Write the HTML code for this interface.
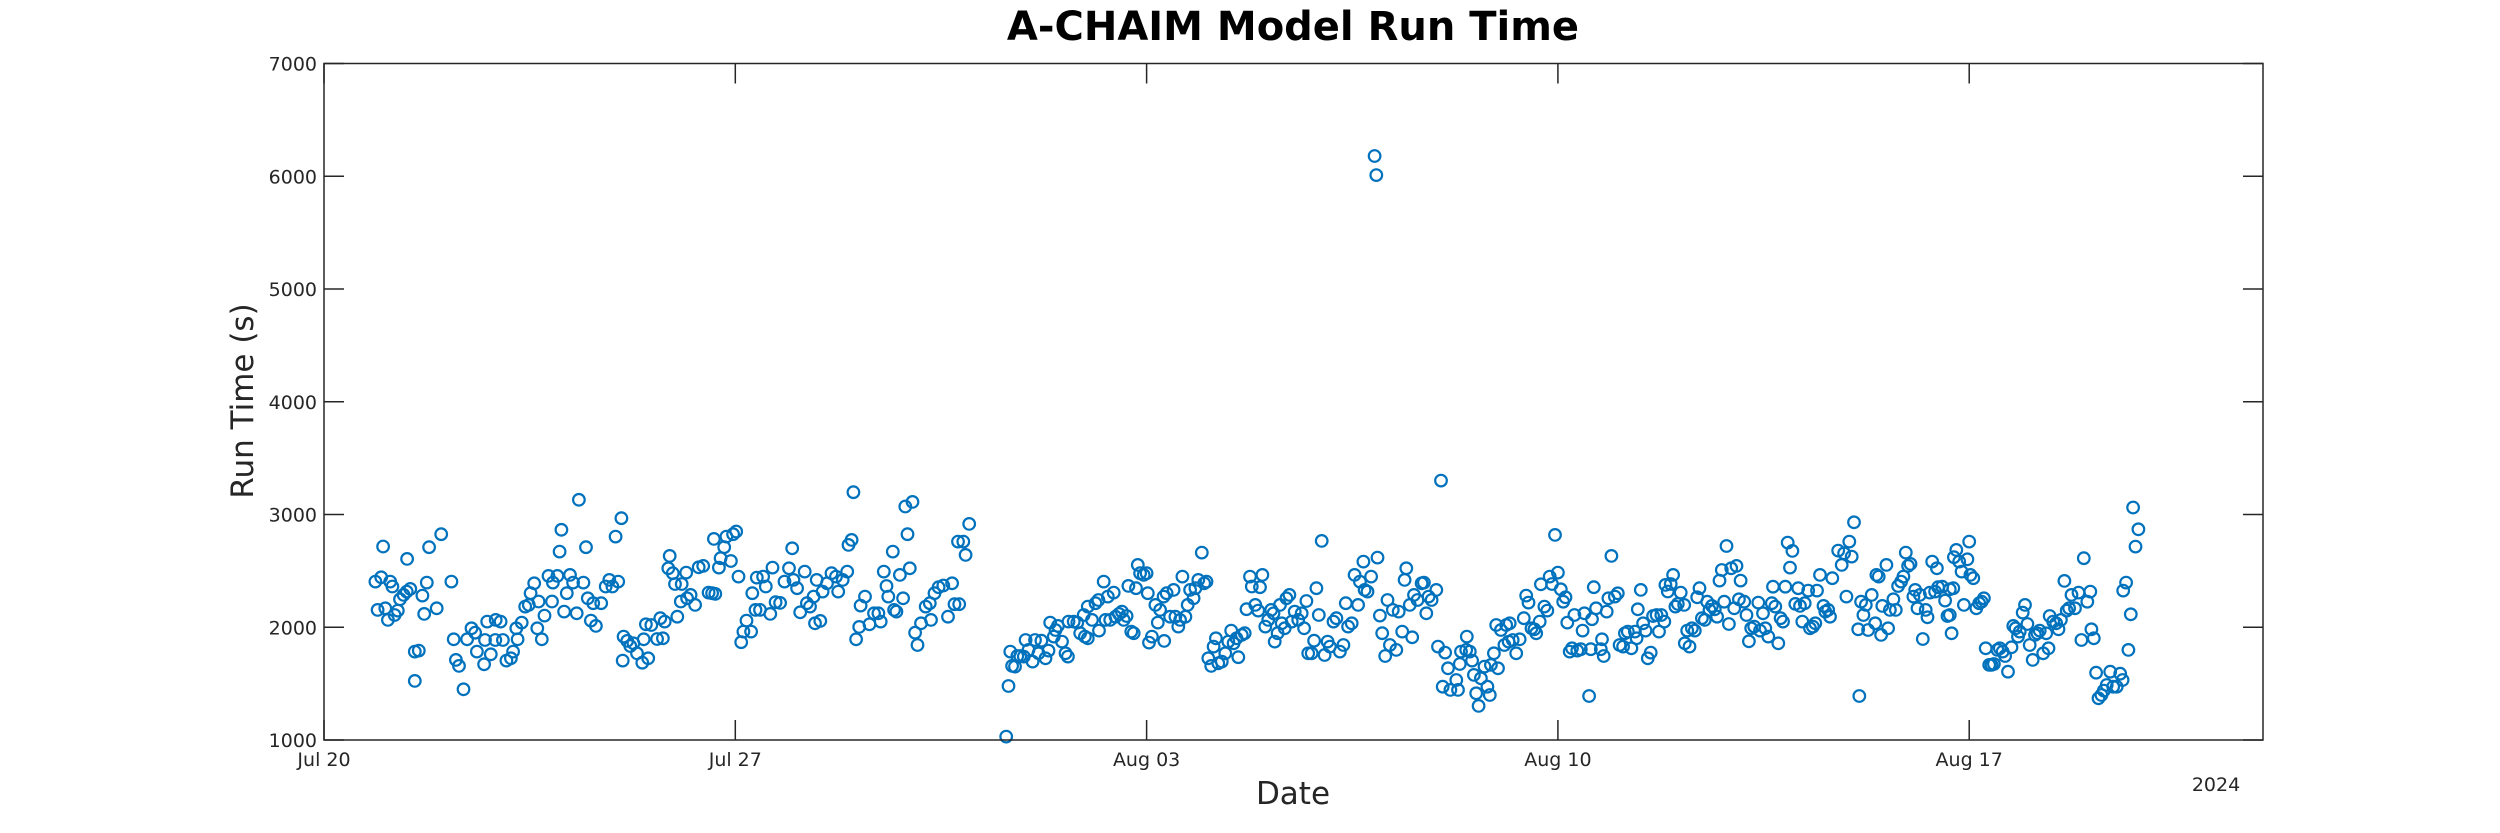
<!DOCTYPE html>
<html><head><meta charset="utf-8"><title>A-CHAIM Model Run Time</title>
<style>
html,body{margin:0;padding:0;background:#fff;}
svg{display:block;font-family:"DejaVu Sans","Liberation Sans",sans-serif;}
</style></head>
<body>
<svg id="chart" width="2500" height="833" viewBox="0 0 2500 833" xmlns="http://www.w3.org/2000/svg">
<rect x="0" y="0" width="2500" height="833" fill="#fff"/>
<text x="1293" y="40" text-anchor="middle" font-size="40" font-weight="bold" fill="#000">A-CHAIM Model Run Time</text>
<g id="grid"></g>
<g id="marks"></g>
<rect x="324" y="63.5" width="1939" height="676.5" fill="none" stroke="#262626" stroke-width="1.5"/>
<text transform="translate(253,401) rotate(-90)" text-anchor="middle" font-size="31" fill="#262626">Run Time (s)</text>
<text x="1293" y="804" text-anchor="middle" font-size="31" fill="#262626">Date</text>
<text x="2216" y="791" text-anchor="middle" font-size="19" fill="#262626">2024</text>
</svg>
<script>
// ---- data (days since 2024-07-20, run time in seconds) ----
const tickDays = [0, 7, 14, 21, 28];
const tickLabels = ['Jul 20', 'Jul 27', 'Aug 03', 'Aug 10', 'Aug 17'];
const yTickValues = [1000, 2000, 3000, 4000, 5000, 6000, 7000];

const daysA = [0.875,0.974,1.126,1.164,1.005,1.415,0.913,1.043,1.088,1.202,1.256,1.294,1.355,1.408,1.469,1.674,1.750,1.788,1.994,2.169,1.705,1.918,1.545,1.613,1.545,2.207,2.245,2.298,2.374,2.435,2.511,2.572,2.603,2.724,2.778,2.839,2.922,3.006,2.740,2.915,3.044,3.105,3.181,3.219,3.295,3.272,3.364,3.425,3.485,3.516,3.577,3.653,3.630,3.706,3.752,3.881,3.820,3.896,3.972,4.010,4.041,4.132,4.087,4.186,4.239,4.300,4.338,4.414,4.459,4.490,4.543,4.627,4.581,4.718,4.794,4.855,4.909,4.962,5.007,5.061,5.099,5.083,5.160,5.213,5.266,5.327,5.418,5.517,5.441,5.479,5.571,5.669,5.723,5.768,5.799,5.883,5.860,5.936,5.974,6.088,6.164,6.012,6.073,6.179,6.240,6.316,6.377,6.453,6.545,6.605,6.659,6.636,6.720,6.750,6.811,6.849,6.925,6.963,7.016,7.055,7.100,7.138,7.191,7.268,7.290,7.344,7.420,7.366,7.473,7.519,7.595,7.633,7.686,7.762,7.838,7.914,7.968,7.991,8.051,8.105,8.181,8.219,8.272,8.333,8.386,8.356,8.447,8.485,8.561,8.637,8.713,8.752,8.828,8.904,8.927,8.980,9.010,9.056,9.109,9.132,9.208,9.284,9.360,9.436,9.474,9.528,9.573,9.604,9.680,9.703,9.741,9.802,9.855,9.893,9.931,9.969,10.015,10.06,10.10,10.16,10.24,10.33,10.31,10.39,10.46,10.54,10.62,10.69,10.73,10.81,10.88,10.92,10.98,10.79];
const timesA = [2405,2443,2405,2361,2716,2606,2154,2168,2065,2109,2148,2248,2287,2316,2340,2281,2396,2710,2825,2405,2118,2168,1784,1793,1524,1893,1710,1657,1450,1893,1991,1952,1784,1671,2050,1760,2065,2050,1887,1887,1887,1704,1725,1784,1893,1991,2041,2183,2198,2302,2390,2228,1991,1893,2103,2228,2455,2396,2455,2671,2864,2302,2139,2464,2396,2124,3130,2396,2710,2257,2059,2012,2213,2213,2361,2420,2361,2804,2405,2967,1917,1704,1879,1834,1858,1769,1686,1725,1893,2026,2020,1896,2080,1902,2050,2633,2523,2479,2384,2384,2485,2094,2228,2257,2287,2198,2532,2544,2307,2302,2296,2784,2529,2612,2710,2804,2588,2825,2849,2449,1867,1961,2059,1961,2302,2154,2154,2440,2449,2361,2118,2529,2222,2216,2405,2523,2700,2420,2346,2133,2494,2213,2183,2272,2420,2035,2056,2316,2390,2479,2449,2316,2420,2494,2730,2775,3198,1893,2003,2192,2272,2026,2124,2124,2050,2494,2366,2272,2671,2154,2139,2464,2257,3071,2825,2523,3112,1952,1843,2035,2183,2065,2213,2302,2355,2370,2094,2390,2204,2204,2760,2642,2917,2760];

const daysB = [11.61,11.65,11.68,11.71,11.76,11.80,11.85,11.94,11.91,11.99,12.06,12.10,12.16,12.21,12.28,12.33,12.36,12.42,12.45,12.49,12.56,12.62,12.66,12.67,12.76,12.82,12.87,12.95,13.00,12.93,13.00,13.07,13.13,13.18,13.19,13.27,13.30,13.34,13.38,13.44,13.47,13.53,13.58,13.61,13.66,13.69,13.74,13.78,13.82,13.85,13.89,13.95,14.00,14.02,14.04,14.09,14.15,14.19,14.23,14.29,14.30,14.34,14.40,14.46,14.49,14.54,14.57,14.61,14.66,14.70,14.74,14.80,14.83,14.88,14.94,14.98,15.02,15.05,15.10,15.14,15.18,15.22,15.28,15.34,15.39,15.44,15.48,15.53,15.56,15.62,15.67,15.70,15.76,15.79,15.85,15.90,15.93,15.97,16.02,16.07,16.12,16.16,16.18,16.23,16.27,16.30,16.35,16.38,16.43,16.47,16.52,16.58,16.64,16.68,16.72,16.75,16.81,16.85,16.89,16.93,16.98,17.03,17.08,17.12,17.18,17.23,17.29,17.35,17.39,17.43,17.49,17.54,17.60,17.63,17.69,17.71,17.76,17.82,17.93,17.97,18.01,18.06,18.10,18.14,18.19,18.25,18.29,18.35,18.39,18.42,18.48,18.52,18.55,18.61,18.68,18.72,18.76,18.80,18.85,18.93,18.96,19.01,19.04,19.08,19.13,19.17,17.88,17.91];
const timesB = [1030,1479,1784,1657,1651,1745,1745,1887,1740,1799,1695,1887,1769,1881,1725,1793,2041,1917,1976,2012,1873,1769,1740,2050,2050,2041,1947,1917,1902,2109,2183,2065,2213,2242,1970,2405,2065,2272,2065,2307,2094,2118,2139,2065,2100,2367,1961,1947,2346,2553,2479,2464,2479,2302,1864,1917,2198,2041,2154,2272,1879,2302,2094,2331,2094,2006,2065,2449,2094,2198,2331,2257,2346,2420,2662,2390,2405,1725,1657,1828,1902,1680,1695,1769,1873,1970,1858,1902,1734,1932,1947,2160,2449,2361,2198,2148,2355,2464,2006,2065,2154,2124,1873,1947,2198,2035,1991,2257,2287,2050,2139,2065,2124,1991,2233,1769,1769,1881,2346,2109,2766,1754,1873,1828,2050,2080,1784,1843,2213,2006,2035,2464,2198,2405,2582,2331,2316,2449,2618,2103,1947,1745,2242,1843,2154,1799,2139,1961,2420,2523,2198,1911,2287,2242,2390,2396,2124,2272,2242,2331,1828,3301,1473,1775,1636,1444,6180,6010];

const daysC = [19.27,19.30,19.33,19.35,19.44,19.45,19.50,19.54,19.57,19.61,19.65,19.69,19.75,19.80,19.84,19.86,19.91,19.98,19.95,20.03,20.09,20.12,20.18,20.16,20.23,20.29,20.35,20.42,20.46,20.50,20.55,20.60,20.63,20.69,20.71,20.77,20.82,20.86,20.90,20.95,21.00,21.05,21.09,21.13,21.16,21.20,21.24,21.28,21.33,21.39,21.42,21.45,21.53,21.56,21.58,21.61,21.65,21.73,21.75,21.78,21.83,21.86,21.91,21.97,22.02,22.05,22.11,22.14,22.19,22.25,22.31,22.34,22.36,22.41,22.45,22.49,22.53,22.58,22.62,22.68,22.72,22.76,22.81,22.83,22.87,22.92,22.96,23.00,23.04,23.09,23.15,23.16,23.20,23.24,23.28,23.33,23.37,23.41,23.45,23.50,23.54,23.58,23.62,23.67,23.71,23.75,23.79,23.83,23.87,23.91,23.95,24.00,24.04,24.08,24.11,24.17,24.21,24.25,24.29,24.34,24.41,24.44,24.49,24.53,24.58,24.64,24.66,24.70,24.75,24.79,24.83,24.87,24.91,24.95,24.99,25.04,25.09,25.12,25.16,25.20,25.26,25.29,25.34,25.38,25.41,25.46,25.52,25.55,25.60,25.63,25.67,25.77,25.83,25.87,25.91,25.96,26.00,26.04,26.11,26.13,26.16,26.20,26.24,26.28,26.34,26.40,26.42,26.46,26.50,26.52,26.59,26.62,26.65,26.71,26.75,26.79,26.84,26.88,26.92,26.96,27.00,27.05,27.08,27.12,27.16,27.21,27.26,27.29,27.33,27.37,27.42,27.45,27.47,27.54,27.59,27.63];
const timesC = [1532,1444,1674,1784,1799,1917,1784,1704,1577,1414,1302,1547,1651,1473,1399,1666,1769,1636,2020,1976,1843,2020,2035,1873,1887,1769,1893,2080,2281,2219,1991,1982,1946,2050,2381,2183,2148,2449,2384,2819,2485,2337,2227,2266,2041,1784,1813,2109,1793,1805,1970,2124,1390,1805,2071,2355,2168,1805,1893,1745,2139,2257,2633,2272,2301,1843,1828,1946,1961,1813,1961,1902,2159,2331,2035,1970,1725,1775,2100,2109,1961,2109,2050,2376,2317,2384,2464,2183,2207,2307,2198,1858,1970,1828,1991,1970,2266,2346,2080,2065,2227,2154,2189,2159,2094,2414,2508,2227,2721,2029,2523,2168,2544,2248,2414,2227,2109,1875,1991,2006,2219,1970,2124,1991,1917,2213,2360,2183,1858,2080,2050,2360,2751,2529,2677,2207,2346,2189,2050,2213,2325,1991,2006,2035,2325,2464,2189,2139,2154,2094,2435,2680,2553,2656,2272,2760,2627,2931,1982,1390,2227,2109,2198,1976,2287,2035,2464,2449,1932,2189,2553,1991,2154,2248,2154,2366,2405,2449,2662,2544,2562,2272,2331,2168,2287,1896,2154,2088,2307,2582,2316,2523,2355,2360,2236,2100];

const daysD = [27.67,27.70,27.67,27.73,27.74,27.78,27.83,27.87,27.91,27.97,28.00,28.02,28.07,28.12,28.17,28.21,28.25,28.28,28.34,28.38,28.42,28.48,28.52,28.57,28.61,28.66,28.72,28.75,28.79,28.83,28.86,28.91,28.95,28.99,29.03,29.08,29.12,29.16,29.20,29.26,29.31,29.35,29.37,29.43,29.48,29.52,29.56,29.62,29.66,29.70,29.74,29.80,29.86,29.91,29.95,30.01,30.06,30.08,30.12,30.16,30.20,30.25,30.29,30.34,30.40,30.45,30.51,30.57,30.61,30.62,30.67,30.71,30.75,30.79,30.83,30.88];
const timesD = [2337,1946,2109,2346,2621,2686,2582,2494,2198,2603,2760,2464,2435,2168,2213,2227,2257,1813,1666,1666,1674,1799,1813,1784,1745,1606,1822,2012,1991,1917,1961,2130,2198,2029,1843,1710,1932,1946,1970,1769,1946,1813,2100,2050,2035,1982,2065,2411,2148,2168,2287,2168,2307,1887,2612,2227,2316,1982,1902,1597,1370,1399,1438,1488,1606,1473,1473,1588,1532,2325,2396,1799,2115,3062,2715,2869];

// ---- axes ----
const X0 = 324, X1 = 2263, Y0 = 740, Y1 = 63.5;
const DAY_MIN = 0, DAY_MAX = 33, V_MIN = 1000, V_MAX = 7000;
function xScale(d){ return X0 + (d - DAY_MIN) / (DAY_MAX - DAY_MIN) * (X1 - X0); }
function yScale(v){ return Y0 - (v - V_MIN) / (V_MAX - V_MIN) * (Y0 - Y1); }

const NS = 'http://www.w3.org/2000/svg';
const grid = document.getElementById('grid');
const marks = document.getElementById('marks');

yTickValues.forEach(function(v){
  const y = yScale(v);
  const t1 = document.createElementNS(NS,'line');
  
  
  t1.setAttribute('x1', X0); t1.setAttribute('x2', X0 + 20);
  t1.setAttribute('y1', y); t1.setAttribute('y2', y);
  t1.setAttribute('stroke', '#262626'); t1.setAttribute('stroke-width', '1.5');
  grid.appendChild(t1);
  const t2 = document.createElementNS(NS,'line');
  
  
  t2.setAttribute('x1', X1 - 20); t2.setAttribute('x2', X1);
  t2.setAttribute('y1', y); t2.setAttribute('y2', y);
  t2.setAttribute('stroke', '#262626'); t2.setAttribute('stroke-width', '1.5');
  grid.appendChild(t2);
  const lb = document.createElementNS(NS,'text');
  
  
  lb.setAttribute('x', X0 - 7); lb.setAttribute('y', y + 7);
  lb.setAttribute('text-anchor', 'end'); lb.setAttribute('font-size', '19');
  lb.setAttribute('fill', '#262626');
  lb.textContent = String(v);
  grid.appendChild(lb);
});

tickDays.forEach(function(d, i){
  const x = xScale(d);
  const t1 = document.createElementNS(NS,'line');
  
  
  t1.setAttribute('x1', x); t1.setAttribute('x2', x);
  t1.setAttribute('y1', Y0); t1.setAttribute('y2', Y0 - 20);
  t1.setAttribute('stroke', '#262626'); t1.setAttribute('stroke-width', '1.5');
  grid.appendChild(t1);
  const t2 = document.createElementNS(NS,'line');
  
  
  t2.setAttribute('x1', x); t2.setAttribute('x2', x);
  t2.setAttribute('y1', Y1); t2.setAttribute('y2', Y1 + 20);
  t2.setAttribute('stroke', '#262626'); t2.setAttribute('stroke-width', '1.5');
  grid.appendChild(t2);
  const lb = document.createElementNS(NS,'text');
  
  
  lb.setAttribute('x', x); lb.setAttribute('y', Y0 + 26);
  lb.setAttribute('text-anchor', 'middle'); lb.setAttribute('font-size', '19');
  lb.setAttribute('fill', '#262626');
  lb.textContent = tickLabels[i];
  grid.appendChild(lb);
});

function drawSeries(days, times){
  for (let i = 0; i < days.length && i < times.length; i++){
    const c = document.createElementNS(NS,'circle');
    
    
    c.setAttribute('cx', xScale(days[i]).toFixed(1));
    c.setAttribute('cy', yScale(times[i]).toFixed(1));
    c.setAttribute('r', '5.8');
    c.setAttribute('fill', 'none');
    c.setAttribute('stroke', '#0072BD');
    c.setAttribute('stroke-width', '2.2');
    marks.appendChild(c);
  }
}
drawSeries(daysA, timesA);
drawSeries(daysB, timesB);
drawSeries(daysC, timesC);
drawSeries(daysD, timesD);
</script>
</body></html>
